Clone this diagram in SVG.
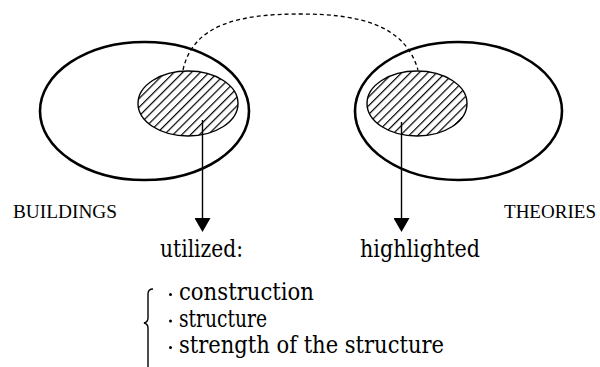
<svg xmlns="http://www.w3.org/2000/svg" width="600" height="367" viewBox="0 0 600 367">
  <style>
    .outer { fill: none; stroke: #000; stroke-width: 2.6; }
    .inner { fill: url(#hatch); stroke: #000; stroke-width: 1.4; }
    .conn { fill: none; stroke: #000; stroke-width: 1.4; }
    .dash { fill: none; stroke: #000; stroke-width: 1.3; stroke-dasharray: 4 3; }
    .set { font-size: 19px; font-family: "Liberation Serif", "DejaVu Serif", serif; }
    .big { font-size: 24px; font-family: "DejaVu Serif", "Liberation Serif", serif; }
  </style>
  <defs>
    <pattern id="hatch" patternUnits="userSpaceOnUse" width="6.2" height="6.2" patternTransform="rotate(45)">
      <rect width="6.2" height="6.2" fill="#fff"/>
      <rect x="0" y="0" width="1.2" height="6.2" fill="#000"/>
    </pattern>
    <marker id="arrow" markerUnits="userSpaceOnUse" markerWidth="16" markerHeight="16" refX="0" refY="8" orient="auto">
      <path d="M0,0 L14,8 L0,16 Z" fill="#000"/>
    </marker>
  </defs>

  <g id="buildings">
    <ellipse class="outer" cx="144.5" cy="111" rx="104.5" ry="69"/>
    <ellipse class="inner" cx="188" cy="103.5" rx="50" ry="32.5"/>
    <text class="set" x="13" y="218" textLength="104" lengthAdjust="spacingAndGlyphs">BUILDINGS</text>
  </g>

  <g id="theories">
    <ellipse class="outer" cx="458.5" cy="111" rx="103.5" ry="69"/>
    <ellipse class="inner" cx="417" cy="103.5" rx="50" ry="32.5"/>
    <text class="set" x="504" y="218" textLength="92" lengthAdjust="spacingAndGlyphs">THEORIES</text>
  </g>

  <g id="connectors">
    <path class="dash" d="M183,70 C193,24 240,14 300,14 C360,14 405,25 418,70"/>
    <line class="conn" x1="202.5" y1="120" x2="202.5" y2="218" marker-end="url(#arrow)"/>
    <line class="conn" x1="401.5" y1="122" x2="401.5" y2="218" marker-end="url(#arrow)"/>
  </g>

  <g id="utilized">
    <text class="big" x="160" y="257" textLength="83" lengthAdjust="spacingAndGlyphs">utilized:</text>
  </g>

  <g id="highlighted">
    <text class="big" x="360" y="257" textLength="120" lengthAdjust="spacingAndGlyphs">highlighted</text>
  </g>

  <g id="list">
    <path class="conn" d="M153,289 Q148,289 148,294 L148,318 Q148,322 144,323 Q148,324 148,328 L148,367"/>
    <circle cx="170.5" cy="294.5" r="1.5" fill="#000"/>
    <circle cx="170.5" cy="321" r="1.5" fill="#000"/>
    <circle cx="170.5" cy="347.5" r="1.5" fill="#000"/>
    <text class="big" x="179" y="300" textLength="135" lengthAdjust="spacingAndGlyphs">construction</text>
    <text class="big" x="179" y="327" textLength="88" lengthAdjust="spacingAndGlyphs">structure</text>
    <text class="big" x="179" y="353" textLength="265" lengthAdjust="spacingAndGlyphs">strength of the structure</text>
  </g>
</svg>
